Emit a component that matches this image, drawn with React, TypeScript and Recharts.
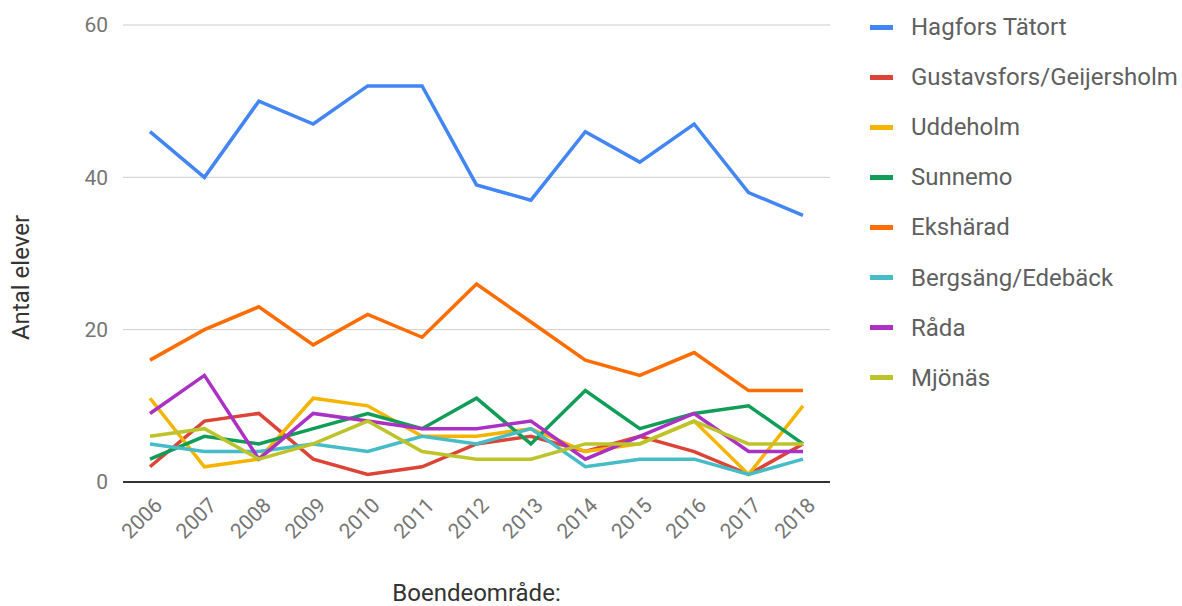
import { LineChart, Line, XAxis, YAxis, CartesianGrid, Legend, ReferenceLine } from 'recharts';

const years = ['2006', '2007', '2008', '2009', '2010', '2011', '2012', '2013', '2014', '2015', '2016', '2017', '2018'];

const hagfors = [46, 40, 50, 47, 52, 52, 39, 37, 46, 42, 47, 38, 35];
const gustavsfors = [2, 8, 9, 3, 1, 2, 5, 6, 4, 6, 4, 1, 5];
const uddeholm = [11, 2, 3, 11, 10, 6, 6, 7, 4, 5, 8, 1, 10];
const sunnemo = [3, 6, 5, 7, 9, 7, 11, 5, 12, 7, 9, 10, 5];
const eksharad = [16, 20, 23, 18, 22, 19, 26, 21, 16, 14, 17, 12, 12];
const bergsang = [5, 4, 4, 5, 4, 6, 5, 7, 2, 3, 3, 1, 3];
const rada = [9, 14, 3, 9, 8, 7, 7, 8, 3, 6, 9, 4, 4];
const mjonas = [6, 7, 3, 5, 8, 4, 3, 3, 5, 5, 8, 5, 5];

const yTicks = [0, 20, 40, 60];

const series = [
  { key: 'hagfors', name: 'Hagfors Tätort', color: '#4285F4', values: hagfors },
  { key: 'gustavsfors', name: 'Gustavsfors/Geijersholm', color: '#DB4437', values: gustavsfors },
  { key: 'uddeholm', name: 'Uddeholm', color: '#F4B400', values: uddeholm },
  { key: 'sunnemo', name: 'Sunnemo', color: '#0F9D58', values: sunnemo },
  { key: 'eksharad', name: 'Ekshärad', color: '#FF6D01', values: eksharad },
  { key: 'bergsang', name: 'Bergsäng/Edebäck', color: '#46BDC6', values: bergsang },
  { key: 'rada', name: 'Råda', color: '#AB30C4', values: rada },
  { key: 'mjonas', name: 'Mjönäs', color: '#BDC42B', values: mjonas },
];

const data = years.map((year, i) => {
  const row: Record<string, string | number> = { year };
  series.forEach((s) => {
    row[s.key] = s.values[i];
  });
  return row;
});

const FONT = 'Roboto, sans-serif';

function XTick({ x, y, payload }: any) {
  return (
    <text
      x={0}
      y={0}
      transform={`translate(${x + 3}, ${y + 6}) rotate(-45)`}
      textAnchor="end"
      dy="0.71em"
      fill="#757575"
      fontSize={21}
      fontFamily={FONT}
    >
      {payload.value}
    </text>
  );
}

function YTitle({ viewBox }: any) {
  const cy = viewBox.y + viewBox.height / 2 + 24;
  return (
    <text
      x={0}
      y={0}
      transform={`translate(29, ${cy}) rotate(-90)`}
      textAnchor="middle"
      fill="#333"
      fontSize={24}
      fontFamily={FONT}
    >
      Antal elever
    </text>
  );
}

function LegendBox() {
  return (
    <div style={{ fontFamily: FONT }}>
      {series.map((s, i) => (
        <div
          key={s.key}
          style={{ position: 'absolute', left: 0, top: i * 50.1, display: 'flex', alignItems: 'center', height: 30, whiteSpace: 'nowrap' }}
        >
          <div style={{ width: 23, height: 5, background: s.color, marginRight: 18 }} />
          <span style={{ fontSize: 24, color: '#5f5f5f' }}>{s.name}</span>
        </div>
      ))}
    </div>
  );
}

export default function App() {
  return (
    <div style={{ position: 'absolute', left: 0, top: 0, width: 1182, height: 606, background: '#fff' }}>
      <LineChart width={1182} height={606} data={data} margin={{ top: 25, right: 352, left: 0, bottom: 0 }}>
        <CartesianGrid stroke="#cccccc" vertical={false} />
        <XAxis
          dataKey="year"
          height={124}
          padding={{ left: 27, right: 27 }}
          axisLine={false}
          tickLine={false}
          tick={<XTick />}
          interval={0}
          label={{ value: 'Boendeområde:', position: 'insideBottom', offset: 0, dy: -5, fill: '#333', fontSize: 24, fontFamily: FONT }}
        />
        <YAxis
          width={123}
          domain={[0, 60]}
          ticks={yTicks}
          axisLine={false}
          tickLine={false}
          tickMargin={9}
          tick={{ fill: '#757575', fontSize: 21, fontFamily: FONT }}
          label={<YTitle />}
        />
        <ReferenceLine y={0} stroke="#333333" strokeWidth={2} />
        {series.map((s) => (
          <Line
            key={s.key}
            type="linear"
            dataKey={s.key}
            name={s.name}
            stroke={s.color}
            strokeWidth={3.5}
            dot={false}
            activeDot={false}
            isAnimationActive={false}
          />
        ))}
        <Legend
          content={<LegendBox />}
          wrapperStyle={{ position: 'absolute', left: 870, top: 12, width: 310 }}
        />
      </LineChart>
    </div>
  );
}
